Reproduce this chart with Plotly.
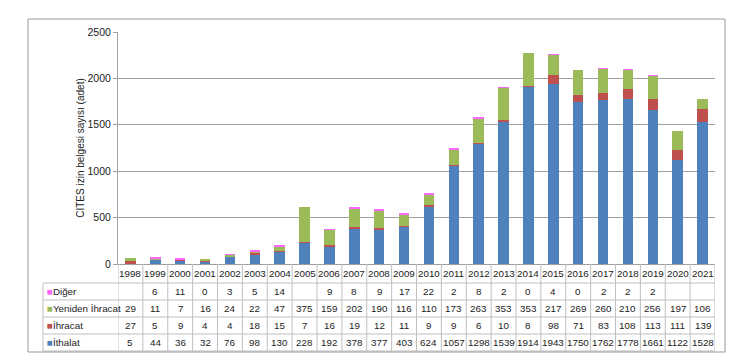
import plotly.graph_objects as go

years = [str(y) for y in range(1998, 2022)]
ithalat = [5, 44, 36, 32, 76, 98, 130, 228, 192, 378, 377, 403, 624, 1057, 1298, 1539, 1914, 1943, 1750, 1762, 1778, 1661, 1122, 1528]
ihracat = [27, 5, 9, 4, 4, 18, 15, 7, 16, 19, 12, 11, 9, 9, 6, 10, 8, 98, 71, 83, 108, 113, 111, 139]
yeniden = [29, 11, 7, 16, 24, 22, 47, 375, 159, 202, 190, 116, 110, 173, 263, 353, 353, 217, 269, 260, 210, 256, 197, 106]
diger = [None, 6, 11, 0, 3, 5, 14, None, 9, 8, 9, 17, 22, 2, 8, 2, 0, 4, 0, 2, 2, 2, None, None]

series = [
    ("İthalat", ithalat, "#4F81BD"),
    ("İhracat", ihracat, "#C0504D"),
    ("Yeniden İhracat", yeniden, "#9BBB59"),
    ("Diğer", diger, "#FF66FF"),
]
table_order = ["Diğer", "Yeniden İhracat", "İhracat", "İthalat"]

W, H = 738, 360
L, R, T, B = 118, 23, 32, 96
PW, PH = W - L - R, H - T - B
FONT = "Liberation Sans"
GRID = "#A0A0A0"
TBL = "#BFBFBF"

def px_x(px):
    return (px - L) / PW

def px_y(py):
    return (H - B - py) / PH

fig = go.Figure()
for name, vals, col in series:
    fig.add_trace(go.Bar(x=years, y=vals, name=name, marker=dict(color=col, line=dict(width=0))))

shapes = []
annotations = []
rows_px = [264, 283, 300, 317, 334, 351]
ncol = len(years)
for py in rows_px[1:]:
    shapes.append(dict(type="line", xref="paper", yref="paper", x0=px_x(43), x1=1, y0=px_y(py), y1=px_y(py), line=dict(color=TBL, width=1)))
for i in range(ncol + 1):
    shapes.append(dict(type="line", xref="x", yref="paper", x0=i - 0.5, x1=i - 0.5, y0=px_y(264), y1=px_y(351), line=dict(color=TBL, width=1)))
shapes.append(dict(type="line", xref="paper", yref="paper", x0=px_x(43), x1=px_x(43), y0=px_y(283), y1=px_y(351), line=dict(color=TBL, width=1)))
shapes.append(dict(type="rect", xref="paper", yref="paper", x0=px_x(28), x1=px_x(725), y0=px_y(19), y1=px_y(352), line=dict(color="#9A9A9A", width=1)))

fs = 9.8
for i, y in enumerate(years):
    annotations.append(dict(x=i, y=px_y(273.5), xref="x", yref="paper", text=y, showarrow=False, font=dict(family=FONT, size=fs, color="#222"), xanchor="center", yanchor="middle"))
lookup = {n: (v, c) for n, v, c in series}
for r, name in enumerate(table_order):
    vals, col = lookup[name]
    ymid = px_y((rows_px[r + 1] + rows_px[r + 2]) / 2)
    annotations.append(dict(x=px_x(45), y=ymid, xref="paper", yref="paper", xanchor="left", yanchor="middle", showarrow=False,
                            text=f"<span style='color:{col}'>■</span>{name}", font=dict(family=FONT, size=fs, color="#222")))
    for i, v in enumerate(vals):
        if v is None:
            continue
        annotations.append(dict(x=i, y=ymid, xref="x", yref="paper", text=str(v), showarrow=False, font=dict(family=FONT, size=fs, color="#222"), xanchor="center", yanchor="middle"))

fig.update_layout(
    width=W, height=H, autosize=False,
    margin=dict(l=L, r=R, t=T, b=B, pad=0),
    barmode="stack", bargap=0.58,
    showlegend=False,
    plot_bgcolor="white", paper_bgcolor="white",
    font=dict(family=FONT, size=fs, color="#222"),
    shapes=shapes, annotations=annotations,
    xaxis=dict(type="category", range=[-0.5, ncol - 0.5], showticklabels=False, ticks="", showline=True, linecolor=GRID, linewidth=1, showgrid=False),
    yaxis=dict(range=[0, 2500], dtick=500, showgrid=True, gridcolor=GRID, gridwidth=1, showline=True, linecolor=GRID,
               ticks="outside", ticklen=4, tickcolor=GRID, zeroline=False,
               tickfont=dict(family=FONT, size=10.5, color="#222"),
               title=dict(text="CITES izin belgesi sayısı (adet)", font=dict(family=FONT, size=10, color="#222"), standoff=1)),
)

fig.write_html("out.html", config={"displayModeBar": False},
               post_script="document.body.style.margin='0';document.body.style.padding='0';")
